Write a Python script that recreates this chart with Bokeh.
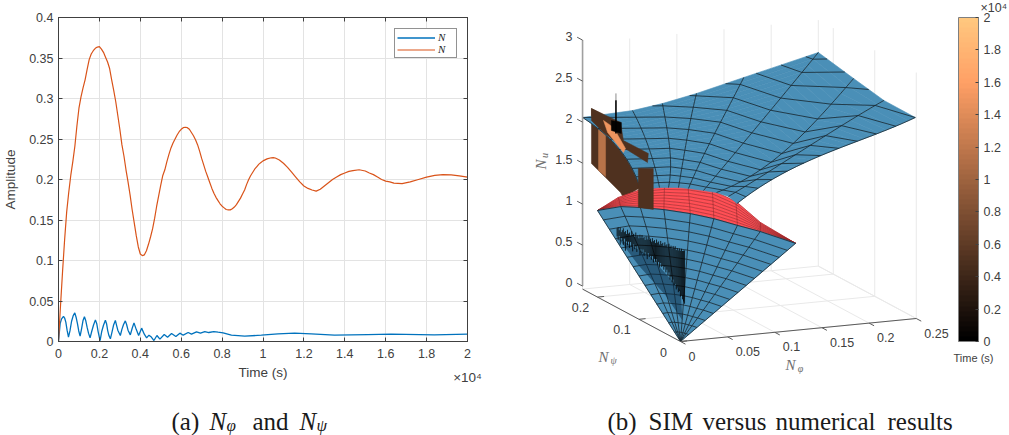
import numpy as np
from bokeh.embed import file_html
from bokeh.resources import INLINE
from bokeh.layouts import column, row
from bokeh.plotting import figure
from bokeh.core.properties import value
from bokeh.models import (Range1d, LinearAxis, FixedTicker, Legend, LegendItem, ColorBar, LinearColorMapper)

# ---------- panel (a) data ----------
phi_t = [0,81,150,244,300,358,420,488,560,640,720,797,860,927,990,1057,1130,1200,1268,1330,1398,1470,1545,1620,1710,
         1805,1870,1940,2033,2110,2200,2293,2350,2406,2470,2537,2610,2690,2780,2840,2900,3024,3100,3180,3268,3330,3400,
         3512,3600,3691,3800,3919,4065,4195,4309,4423,4540,4667,4813,4959,5171,5333,5528,5740,5935,6098,6341,6504,6748,
         6943,7154,7350,7593,7805,8049,8455,9106,9919,10732,11545,12358,13496,15122,16260,18374,20000]
phi_v = [0,.022,.028,.031,.029,.024,.014,.0053,.013,.025,.032,.0354,.030,.022,.013,.0066,.016,.026,.0305,.026,.0177,.010,
         .0045,.012,.020,.0267,.022,.012,.0012,.012,.020,.0263,.022,.0135,.007,.0033,.011,.020,.026,.020,.014,.0074,.015,
         .021,.0255,.021,.014,.0082,.016,.023,.015,.0074,.0165,.009,.0045,.0078,.0055,.0012,.0074,.0029,.0086,.0053,.0099,
         .0062,.0103,.0078,.0111,.0091,.0119,.0103,.0123,.0111,.0123,.0115,.0107,.0078,.0066,.0078,.0095,.0103,.0095,.0078,
         .0086,.0091,.0082,.009]
psi_t = [0,100,200,300,400,500,600,700,800,900,1000,1100,1200,1300,1400,1500,1600,1700,1800,1900,2000,2100,2200,2300,2400,
         2500,2600,2700,2800,2900,3000,3100,3200,3300,3400,3500,3600,3700,3800,3900,4000,4100,4200,4300,4400,4500,4600,
         4700,4800,4900,5000,5100,5200,5300,5400,5500,5600,5700,5800,5900,6000,6100,6200,6300,6400,6500,6600,6700,6800,
         6900,7000,7100,7200,7300,7400,7500,7600,7700,7800,7900,8000,8100,8200,8300,8400,8500,8600,8700,8800,8900,9000,
         9100,9200,9300,9400,9500,9600,9700,9800,9900,10000,10200,10400,10500,10600,10800,11000,11200,11400,11600,11800,
         12000,12200,12400,12600,12800,13000,13200,13400,13600,13800,14000,14200,14400,14700,15000,15200,15400,15600,15800,
         16000,16200,16400,16800,17200,17600,18000,18400,18800,19200,19600,20000]
psi_v = [0,.045,.087,.126,.160,.184,.205,.222,.241,.266,.288,.302,.313,.323,.336,.348,.355,.359,.362,.3635,.364,.361,.357,
         .351,.345,.337,.323,.310,.296,.279,.262,.243,.229,.212,.197,.181,.163,.147,.131,.117,.108,.106,.107,.112,.120,.129,
         .139,.152,.167,.180,.193,.205,.212,.222,.231,.239,.245,.250,.255,.259,.262,.264,.2645,.264,.262,.258,.254,.249,.243,
         .235,.226,.218,.210,.203,.196,.189,.183,.178,.174,.170,.167,.165,.163,.1625,.1625,.164,.166,.169,.173,.177,.182,
         .187,.194,.200,.205,.209,.213,.216,.219,.221,.223,.2255,.2268,.227,.2265,.224,.220,.215,.209,.203,.197,
         .192,.189,.187,.1856,.188,.192,.196,.200,.203,.206,.208,.210,.211,.212,.2105,.208,.206,.203,.200,
         .198,.197,.1955,.195,.197,.200,.203,.205,.206,.2058,.2045,.203]
x_ticks = [0,2000,4000,6000,8000,10000,12000,14000,16000,18000,20000]
x_labels = ["0","0.2","0.4","0.6","0.8","1","1.2","1.4","1.6","1.8","2"]
y_ticks = [0,0.05,0.1,0.15,0.2,0.25,0.3,0.35,0.4]
y_labels = ["0","0.05","0.1","0.15","0.2","0.25","0.3","0.35","0.4"]

# ---------- panel (b) data: slow invariant manifold control net, meridian by meridian ----------
# stations: outer boundary, upper flare, lower flare, neck
top_phi = [[0,0,0,0],[.053,.0345,.0264,.0195],[.0847,.0544,.040,.0247],[.1208,.0777,.0517,.0309],[.171,.1127,.0684,.0349],
           [.250,.1711,.1023,.0464],[.250,.181,.1177,.0536],[.250,.1855,.1215,.0597],[.249,.1866,.123,.060]]
top_psi = [[.236,.164,.1205,.096],[.236,.165,.125,.095],[.236,.155,.115,.085],[.236,.155,.11,.075],[.236,.155,.10,.06],
           [.236,.16,.10,.05],[.151,.11,.07,.035],[.078,.06,.04,.02],[0,0,0,0]]
top_nu = [[2.093,1.995,1.82,1.594],[2.118,2.015,1.815,1.599],[2.168,2.08,1.863,1.620],[2.250,2.128,1.888,1.640],
          [2.389,2.173,1.921,1.665],[2.605,2.266,1.920,1.654],[2.518,2.06,1.789,1.662],[2.448,2.178,1.901,1.648],
          [2.452,2.229,1.996,1.616]]
# how many mesh rings each meridian passes between the neck and the boundary (rings leave through the boundary)
top_rings = [8,8.6,9.2,10.2,11.5,14.5,12.5,11.5,11]
# stations: fold top (red), fold rim
red_phi = [[0,0],[.011,.018],[.024,.030],[.038,.044],[.052,.061],[.069,.075],[.083,.089],[.098,.100],[.122,.122]]
red_psi = [[.2,.2],[.175,.185],[.15,.165],[.125,.14],[.10,.115],[.08,.09],[.055,.065],[.03,.035],[0,0]]
red_nu = [[1.056,1.056],[1.270,1.124],[1.421,1.154],[1.509,1.18],[1.561,1.18],[1.548,1.17],[1.466,1.14],[1.260,1.134],[1.06,1.06]]

# numerical trajectory, early (black) part
num_psi = [.18,.1775,.175,.1725,.17,.1675,.165,.1625,.16,.1575,.155,.1525,.15,.1475,.145,.1425,.14,.1375,.135,.1325,.13,
           .1275,.125,.1225,.12,.1175,.115,.1125,.11,.1075,.105,.1025,.10,.0975,.095,.0925,.09,.0875,.085,.0825,.08,.0775,
           .075,.0725,.07,.0675,.065,.0625,.06,.0575,.055,.0525,.05,.0475,.045,.0425,.04,.0375,.035,.0325,.03,.0275,.025,
           .0225,.02,.0175]
num_hi = [.88,.90,.87,.91,.86,.89,.92,.88,.90,.87,.93,.89,.91,.88,.94,.90,.92,.89,.95,.91,.93,.90,.95,.92,
          .96,.93,.95,.92,.97,.94,.98,.95,.97,.94,.99,.96,.98,.95,1.0,.97,.99,.96,1.01,.98,1.0,.97,1.02,.99,
          1.01,.98,1.03,1.0,1.02,.99,1.03,1.01,1.04,1.0,1.03,1.01,1.04,1.02,1.05,1.03,1.04,1.05]
num_lo = [.78,.74,.80,.70,.79,.76,.72,.80,.66,.78,.74,.79,.72,.80,.75,.70,.79,.74,.78,.72,.80,.76,.70,.78,
          .74,.79,.72,.77,.75,.70,.78,.74,.76,.72,.77,.70,.75,.72,.76,.70,.74,.68,.74,.70,.72,.68,.72,.66,
          .70,.64,.68,.60,.64,.58,.62,.56,.58,.52,.55,.50,.52,.46,.48,.44,.42,.40]
num_phi = 0.012
shade_psi = [.177,.10,.027,.0224,.063,.128]
shade_phi = [.012,.012,.012,.012,.012,.012]
shade_nu = [.765,.752,.535,.182,.377,.566]
# numerical trajectory, late part: pieces (psi, Nu) with the time that colours them
late_phi = 0.009
body_psi = [.235,.235,.201,.165,.158,.117,.086,.098,.158,.165]
body_nu = [2.195,1.524,1.445,1.361,1.318,1.551,1.868,2.018,1.989,2.202]
body_time = 5000
band_psi = [.218,.201,.201,.218]
band_nu = [2.156,2.165,1.457,1.485]
band_time = 11600
strip_psi = [.235,.165,.158,.098,.10,.158,.206,.235]
strip_nu = [2.195,2.215,2.013,2.018,1.902,1.928,1.982,2.049]
light_psi = [.206,.182,.153,.158,.196]
light_nu = [2.128,2.107,1.929,1.867,2.009]
light_time = 15000
block_psi = [.122,.086,.086,.122]
block_nu = [1.771,1.868,1.368,1.295]
blob_psi = [.187,.163,.163,.187]
blob_nu = [2.179,2.22,2.085,2.057]
blob_time = 300
spike_psi = .176
spike_nu = [2.05,2.454,2.539]

phi3_ticks = [0,.05,.1,.15,.2,.25]
phi3_labels = ["0","0.05","0.1","0.15","0.2","0.25"]
psi3_ticks = [0,.1,.2]
psi3_labels = ["0","0.1","0.2"]
nu_ticks = [0,.5,1,1.5,2,2.5,3]
nu_labels = ["0","0.5","1","1.5","2","2.5","3"]
PHI_MAX, PSI_MAX, NU_MAX = .25, .236, 3
time_ticks = [0,2000,4000,6000,8000,10000,12000,14000,16000,18000,20000]
time_labels = ["0","0.2","0.4","0.6","0.8","1","1.2","1.4","1.6","1.8","2"]

SANS = "Liberation Sans"
SERIF = "Liberation Serif"
INK = "#404040"

# ---------- panel (a) ----------
p1 = figure(width=500, height=395, output_backend="svg", toolbar_location=None,
            x_range=Range1d(0, 20000), y_range=Range1d(0, 0.4),
            min_border_left=57, min_border_right=33, min_border_top=17, min_border_bottom=54,
            background_fill_color="white", outline_line_color=INK)
for ax, ticks, labs in ((p1.xaxis[0], x_ticks, x_labels), (p1.yaxis[0], y_ticks, y_labels)):
    ax.ticker = FixedTicker(ticks=ticks)
    ax.major_label_overrides = dict(zip(ticks, labs))
    ax.major_label_text_font = SANS
    ax.major_label_text_font_size = "12.5px"
    ax.major_label_text_color = INK
    ax.major_tick_in = 4
    ax.major_tick_out = 0
    ax.minor_tick_line_color = None
    ax.axis_line_color = INK
    ax.major_tick_line_color = INK
    ax.axis_label_text_font = SANS
    ax.axis_label_text_font_style = "normal"
    ax.axis_label_text_font_size = "13.5px"
    ax.axis_label_text_color = INK
p1.xaxis[0].axis_label = "Time (s)"
p1.yaxis[0].axis_label = "Amplitude"
p1.xaxis[0].major_label_standoff = 7
p1.yaxis[0].major_label_standoff = 5
p1.xaxis[0].axis_label_standoff = 4
p1.yaxis[0].axis_label_standoff = 8
p1.xgrid.ticker = FixedTicker(ticks=x_ticks)
p1.ygrid.ticker = FixedTicker(ticks=y_ticks)
p1.grid.grid_line_color = "#e3e3e3"
for side, ticks in (("above", x_ticks), ("right", y_ticks)):
    a = LinearAxis(ticker=FixedTicker(ticks=ticks), major_label_text_font_size="0px", major_label_standoff=0,
                   major_tick_in=4, major_tick_out=0, minor_tick_line_color=None, axis_line_color=INK,
                   major_tick_line_color=INK, major_label_text_color=None)
    p1.add_layout(a, side)
# the scale note sits on a bare axis of its own, right-aligned under the frame
note = LinearAxis(ticker=FixedTicker(ticks=[]), axis_line_color=None, major_tick_line_color=None,
                  minor_tick_line_color=None, major_label_text_font_size="0px", major_label_standoff=0,
                  axis_label="×10⁴", axis_label_align="end", axis_label_standoff=-13,
                  axis_label_text_font=SANS, axis_label_text_font_style="normal",
                  axis_label_text_font_size="13.5px", axis_label_text_color=INK)
p1.add_layout(note, "below")
l1 = p1.line(phi_t, phi_v, line_color="#0072BD", line_width=1.3)
l2 = p1.line(psi_t, psi_v, line_color="#D95319", line_width=1.2)
leg = Legend(items=[LegendItem(label=value("N"), renderers=[l1]), LegendItem(label=value("N"), renderers=[l2])],
             location=(336, 283), orientation="vertical", padding=2, margin=0, spacing=0, glyph_width=38,
             glyph_height=11, label_height=11, label_width=16, label_standoff=3, border_line_color="#262626",
             label_text_font=SERIF, label_text_font_style="italic", label_text_font_size="11px",
             label_text_color="#262626", background_fill_alpha=1)
p1.add_layout(leg, "center")
sub_r = p1.text([18950, 18950], [.3785, .3625], ["φ", "ψ"], text_font=value(SERIF), text_font_style="italic",
                text_font_size="8px", text_color="#262626", text_baseline="middle", level="overlay")

# ---------- panel (b): a fixed 3-D view projected onto the page ----------
def proj(f, s, n):
    f, s, n = np.asarray(f, float), np.asarray(s, float), np.asarray(n, float)
    return 680 + 943*f - 415*s, 341 - 92*f - 222*s - 82*n

def copper(v):
    x = np.clip(v, 0, 1)
    return "#%02x%02x%02x" % (int(255*min(1, 1.25*x)), int(255*.7812*x), int(255*.4975*x))

def refine(net, rows):
    net = np.asarray(net, float)
    src = np.linspace(0, 1, net.shape[1])
    dst = np.linspace(0, 1, rows + 1)
    deg = net.shape[1] - 1
    return np.array([np.polyval(np.polyfit(src, c, deg), dst) for c in net])

p2 = figure(width=509, height=395, output_backend="svg", toolbar_location=None,
            x_range=Range1d(500, 1009), y_range=Range1d(395, 0), min_border=0,
            outline_line_color=None, background_fill_color="white")
p2.axis.visible = False
p2.grid.visible = False

def seg(f0, s0, n0, f1, s1, n1, dy=0, **kw):
    x0, y0 = proj(f0, s0, n0); x1, y1 = proj(f1, s1, n1)
    p2.segment(x0, y0 + dy, x1, y1 + dy, **kw)

GRID = "#e9e9e9"
pt = np.array(phi3_ticks); st = np.array(psi3_ticks)
seg(pt, 0*pt, 0*pt, pt, 0*pt + PSI_MAX, 0*pt, line_color=GRID, line_width=1)
seg(0*st, st, 0*st, 0*st + PHI_MAX, st, 0*st, line_color=GRID, line_width=1)
seg(pt, 0*pt + PSI_MAX, 0*pt, pt, 0*pt + PSI_MAX, 0*pt + NU_MAX, line_color=GRID, line_width=1)
seg(0*st + PHI_MAX, st, 0*st, 0*st + PHI_MAX, st, 0*st + NU_MAX, line_color=GRID, line_width=1)
seg([0], [PSI_MAX], [0], [PHI_MAX], [PSI_MAX], [0], line_color=GRID, line_width=1)
seg([PHI_MAX], [0], [0], [PHI_MAX], [PSI_MAX], [0], line_color=GRID, line_width=1)

BLUE = "#4a8fb7"; RED = "#ff4f55"; MESH = "#17262f"; RMESH = "#8a2528"

def sheet(xs, ys, fill, mesh, lw=0.9, rings=True):
    j, r = xs.shape
    qx, qy = [], []
    for a in range(j - 1):
        for b in range(r - 1):
            qx.append([xs[a, b], xs[a + 1, b], xs[a + 1, b + 1], xs[a, b + 1]])
            qy.append([ys[a, b], ys[a + 1, b], ys[a + 1, b + 1], ys[a, b + 1]])
    p2.patches(qx, qy, fill_color=fill, line_color=fill, line_width=0.6)
    p2.multi_line([list(xs[a]) for a in range(j)], [list(ys[a]) for a in range(j)], line_color=mesh, line_width=lw, line_alpha=.9)
    if rings:
        p2.multi_line([list(xs[:, b]) for b in range(r)], [list(ys[:, b]) for b in range(r)], line_color=mesh, line_width=lw, line_alpha=.9)

def late(psi, nu, t, **kw):
    x, y = proj(np.full(len(psi), late_phi), psi, nu)
    p2.patch(x, y, fill_color=copper(t/20000), line_color=copper(t/20000), line_width=.5, **kw)

# body of the late trajectory behind the sheet
late(body_psi, body_nu, body_time)
late(band_psi, band_nu, band_time)

# red fold band
xr, yr = proj(refine(red_phi, 8), refine(red_psi, 8), refine(red_nu, 8))
sheet(xr, yr, RED, RMESH, .6)
# upper sheet: meridians, then rings that leave through the outer boundary
xt, yt = proj(refine(top_phi, 24), refine(top_psi, 24), refine(top_nu, 24))
sheet(xt, yt, BLUE, MESH, rings=False)
def station_xy(j, t):
    src = np.linspace(0, 1, 4)
    ff = np.polyval(np.polyfit(src, top_phi[j], 3), t)
    ss = np.polyval(np.polyfit(src, top_psi[j], 3), t)
    nn = np.polyval(np.polyfit(src, top_nu[j], 3), t)
    return proj(ff, ss, nn)
ring_x, ring_y = [], []
for k in range(1, 15):
    ts = [1 - (k/n)**1.25 if k <= n else -1 for n in top_rings]
    cur_x, cur_y = [], []
    for j, t in enumerate(ts):
        if t >= 0:
            if j and ts[j - 1] < 0:
                # enters through the boundary between the two meridian ends
                g = (k - top_rings[j - 1]) / max(1e-6, k - top_rings[j - 1] + top_rings[j] - k)
                ax0, ay0 = station_xy(j - 1, 0); ax1, ay1 = station_xy(j, 0)
                cur_x.append(float(ax0 + g*(ax1 - ax0))); cur_y.append(float(ay0 + g*(ay1 - ay0)))
            xx, yy = station_xy(j, t)
            cur_x.append(float(xx)); cur_y.append(float(yy))
            if j + 1 < len(ts) and ts[j + 1] < 0:
                g = (top_rings[j] - k) / max(1e-6, top_rings[j] - k + k - top_rings[j + 1])
                ax0, ay0 = station_xy(j, 0); ax1, ay1 = station_xy(j + 1, 0)
                cur_x.append(float(ax0 + g*(ax1 - ax0))); cur_y.append(float(ay0 + g*(ay1 - ay0)))
    if cur_x:
        ring_x.append(cur_x); ring_y.append(cur_y)
p2.multi_line(ring_x, ring_y, line_color=MESH, line_width=.9, line_alpha=.9)
# lower cone: from the rim straight to the origin
rim_f = np.array(red_phi)[:, 1]; rim_s = np.array(red_psi)[:, 1]; rim_n = np.array(red_nu)[:, 1]
cf = refine(np.column_stack([rim_f, 0*rim_f]), 14)
cs = refine(np.column_stack([rim_s, 0*rim_s]), 14)
cn = refine(np.column_stack([rim_n, 0*rim_n]), 14)
xc, yc = proj(cf, cs, cn)
sheet(xc, yc, BLUE, MESH)

# late trajectory pieces in front
late(strip_psi, strip_nu, body_time)
late(light_psi, light_nu, light_time)
late(block_psi, block_nu, body_time)
late(blob_psi, blob_nu, blob_time)
seg([late_phi], [spike_psi], [spike_nu[1]], [late_phi], [spike_psi], [spike_nu[2]], line_color="#8c8c8c", line_width=1)
seg([late_phi], [spike_psi], [spike_nu[0]], [late_phi], [spike_psi], [spike_nu[1]], line_color="black", line_width=1.6)

# early trajectory
sx, sy = proj(shade_phi, shade_psi, shade_nu)
p2.patch(sx, sy, fill_color="#05263f", fill_alpha=.5, line_color=None)
na = np.array(num_psi)
seg(0*na + num_phi, na, num_lo, 0*na + num_phi, na, num_hi, line_color="black", line_width=.8)

# axes
AX = "#5a5a5a"
seg([0], [0], [0], [PHI_MAX], [0], [0], line_color=AX, line_width=1)
seg([0], [0], [0], [0], [PSI_MAX], [0], line_color=AX, line_width=1)
seg([0], [PSI_MAX], [0], [0], [PSI_MAX], [NU_MAX], dy=-3, line_color="#a0a0a0", line_width=1.6)
seg(pt, 0*pt, 0*pt, pt, 0*pt - .012, 0*pt, line_color=AX, line_width=1)
seg(0*st, st, 0*st, 0*st + .007, st, 0*st, line_color=AX, line_width=1)
nt = np.array(nu_ticks, float)
seg(0*nt, 0*nt + PSI_MAX, nt, 0*nt, 0*nt + PSI_MAX + .013, nt, dy=-3, line_color=AX, line_width=1)

lab = dict(text_font=value(SANS), text_font_size="12.5px", text_color=INK, text_baseline="middle")
x, y = proj(pt, 0*pt, 0*pt)
p2.text(x + 8, y + 14.5, phi3_labels, text_align="left", **lab)
x, y = proj(0*st, st, 0*st)
p2.text(x - 17, y + 10.5, psi3_labels, text_align="center", **lab)
x, y = proj(0*nt, 0*nt + PSI_MAX, nt)
p2.text(x - 10, y - 7, nu_labels, text_align="right", **lab)

ser = dict(text_font=value(SERIF), text_font_style="italic", text_color="#6e6e6e", text_baseline="middle")
p2.text([540], [164], ["N"], angle=[np.pi/2], text_align="center", text_font_size="15px", **ser)
p2.text([544], [155], ["u"], angle=[np.pi/2], text_align="center", text_font_size="10px", **ser)
p2.text([603], [356], ["N"], text_align="center", text_font_size="15px", **ser)
p2.text([613], [360], ["ψ"], text_align="center", text_font_size="10px", **ser)
p2.text([790], [364], ["N"], text_align="center", text_font_size="15px", **ser)
p2.text([800], [368], ["φ"], text_align="center", text_font_size="10px", **ser)

palette = [copper(i/63) for i in range(64)]
cb = ColorBar(color_mapper=LinearColorMapper(palette=palette, low=0, high=20000), ticker=FixedTicker(ticks=time_ticks),
              major_label_overrides=dict(zip(time_ticks, time_labels)), width=20, height=324, location=(458, 54),
              padding=0, margin=0, background_fill_alpha=0, bar_line_color="#7f7f7f", major_tick_line_color=INK,
              major_tick_in=3, major_tick_out=0, minor_tick_line_color=None, label_standoff=5,
              major_label_text_font=SANS, major_label_text_font_size="12.5px", major_label_text_color=INK)
p2.add_layout(cb, "center")
p2.text([980], [7], ["×10⁴"], text_align="left", **lab)
p2.text([973], [357], ["Time (s)"], text_align="center", text_font=value(SANS), text_font_size="11px", text_color=INK, text_baseline="middle")

# ---------- captions ----------
p3 = figure(width=1009, height=40, output_backend="svg", toolbar_location=None, x_range=Range1d(0, 1009),
            y_range=Range1d(435, 395), min_border=0, outline_line_color=None)
p3.axis.visible = False
p3.grid.visible = False
cap = dict(text_baseline="alphabetic", text_color="#1a1a1a", text_align="left")
rm = dict(text_font=value(SERIF), text_font_size="25px", **cap)
it = dict(text_font=value(SERIF), text_font_style="italic", text_font_size="25px", **cap)
sb = dict(text_font=value(SERIF), text_font_style="italic", text_font_size="17px", **cap)
p3.text([171], [421], ["(a)"], **rm)
p3.text([209], [421], ["N"], **it)
p3.text([226], [425], ["φ"], **sb)
p3.text([252], [421], ["and"], **rm)
p3.text([299], [421], ["N"], **it)
p3.text([316], [425], ["ψ"], **sb)
p3.text([607, 648, 702, 775, 887], [421]*5, ["(b)", "SIM", "versus", "numerical", "results"], **rm)

page = column(row(column(p1), column(p2), spacing=0), p3, spacing=0)
open("out.html", "w").write(file_html(page, INLINE))
